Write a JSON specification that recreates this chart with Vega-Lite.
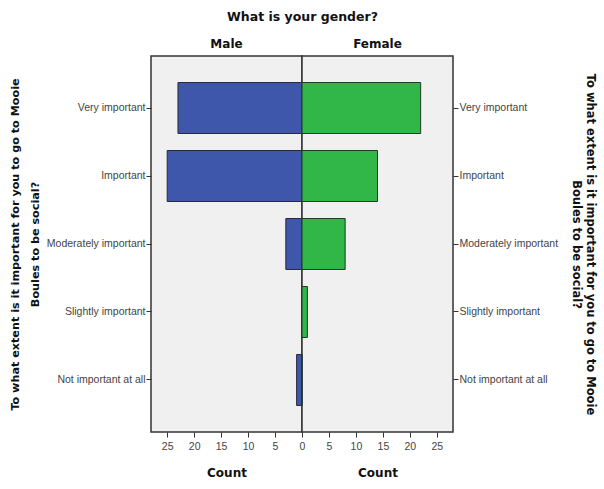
{
  "$schema": "https://vega.github.io/schema/vega-lite/v6.json",
  "background": "white",
  "padding": {"left": 8, "right": 5, "top": 10, "bottom": 5},
  "bounds": "flush",
  "data": {"values": [
    {"gender": "Male", "response": "Very important", "count": 23},
    {"gender": "Male", "response": "Important", "count": 25},
    {"gender": "Male", "response": "Moderately important", "count": 3},
    {"gender": "Male", "response": "Slightly important", "count": 0},
    {"gender": "Male", "response": "Not important at all", "count": 1},
    {"gender": "Female", "response": "Very important", "count": 22},
    {"gender": "Female", "response": "Important", "count": 14},
    {"gender": "Female", "response": "Moderately important", "count": 8},
    {"gender": "Female", "response": "Slightly important", "count": 1},
    {"gender": "Female", "response": "Not important at all", "count": 0}
  ]},
  "title": {"text": "What is your gender?", "font": "DejaVu Sans", "fontSize": 12.5, "fontWeight": "bold", "color": "#111", "anchor": "middle", "offset": 14},
  "spacing": 0,
  "hconcat": [
    {
      "width": 151,
      "height": 376,
      "title": {"text": "Male", "font": "DejaVu Sans", "fontSize": 12, "fontWeight": "bold", "color": "#111", "offset": 5},
      "transform": [{"filter": "datum.gender === 'Male'"}],
      "mark": {"type": "bar", "color": "#3f57aa", "stroke": "#2a2a3a", "strokeWidth": 1},
      "encoding": {
        "y": {"field": "response", "type": "nominal",
              "sort": ["Very important", "Important", "Moderately important", "Slightly important", "Not important at all"],
              "scale": {"paddingInner": 0.25, "paddingOuter": 0.39},
              "axis": {"orient": "left", "title": ["To what extent is it important for you to go to Mooie", "Boules to be social?"], "titleLineHeight": 20, "titlePadding": 6, "titleFontSize": 11.2}},
        "x": {"field": "count", "type": "quantitative",
              "scale": {"domain": [0, 28], "reverse": true, "nice": false, "zero": true},
              "axis": {"title": "Count", "values": [0, 5, 10, 15, 20, 25]}}
      }
    },
    {
      "width": 151,
      "height": 376,
      "title": {"text": "Female", "font": "DejaVu Sans", "fontSize": 12, "fontWeight": "bold", "color": "#111", "offset": 5},
      "transform": [{"filter": "datum.gender === 'Female'"}],
      "mark": {"type": "bar", "color": "#30b748", "stroke": "#1f3a25", "strokeWidth": 1},
      "encoding": {
        "y": {"field": "response", "type": "nominal",
              "sort": ["Very important", "Important", "Moderately important", "Slightly important", "Not important at all"],
              "scale": {"paddingInner": 0.25, "paddingOuter": 0.39},
              "axis": {"orient": "right", "title": ["To what extent is it important for you to go to Mooie", "Boules to be social?"], "titleAngle": 90, "titleLineHeight": 14, "titlePadding": 13}},
        "x": {"field": "count", "type": "quantitative",
              "scale": {"domain": [0, 28], "nice": false, "zero": true},
              "axis": {"title": "Count", "values": [5, 10, 15, 20, 25]}}
      }
    }
  ],
  "config": {
    "view": {"fill": "#f0f0f0", "stroke": "#333333", "strokeWidth": 1.5},
    "axis": {
      "grid": false,
      "domain": false,
      "labelFont": "Liberation Sans",
      "labelFontSize": 10.5,
      "labelColor": "#444",
      "labelFlush": false,
      "labelOverlap": false,
      "labelPadding": 1,
      "tickColor": "#333",
      "tickSize": 5,
      "titleFont": "DejaVu Sans",
      "titleFontSize": 11.5,
      "titleFontWeight": "bold",
      "titleColor": "#111"
    },
    "axisX": {"labelPadding": 4, "titlePadding": 16, "titleFontSize": 12}
  }
}
